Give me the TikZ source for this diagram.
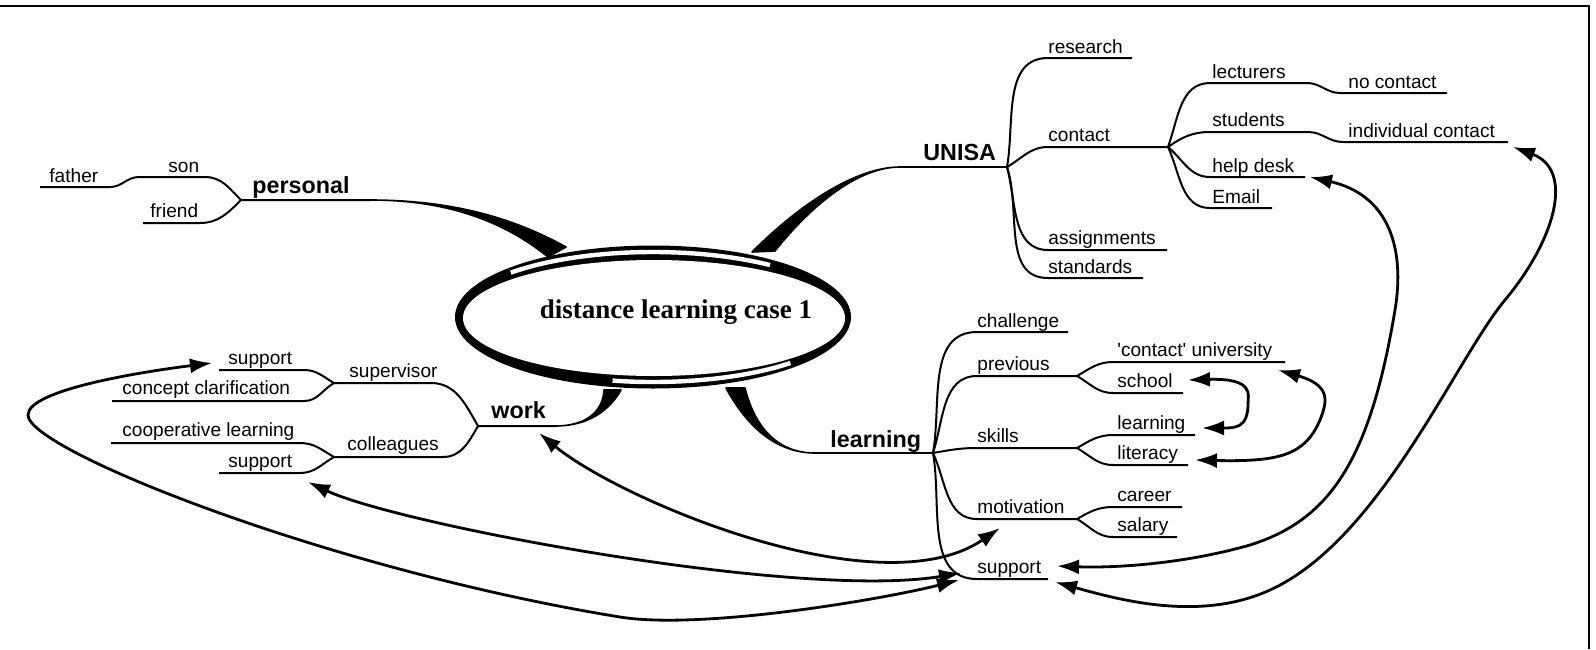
\documentclass[tikz,border=0pt]{standalone}
\usepackage{fontspec}
\setmainfont{Liberation Sans}
\newfontfamily\caseserif{Liberation Serif}
\usetikzlibrary{arrows.meta}

\begin{document}
\begin{tikzpicture}[x=0.5pt,y=-0.5pt,
    lbl/.style={anchor=base west,inner sep=0pt,font=\fontsize{9.55}{11}\selectfont},
    topic/.style={anchor=base west,inner sep=0pt,font=\fontsize{11.65}{14}\selectfont\bfseries},
    branch/.style={line width=1pt},
    taper/.style={fill=black,draw=black,line width=0.8pt,line join=round},
    link/.style={line width=1.4pt,{Latex[length=11pt,width=7.5pt]}-{Latex[length=11pt,width=7.5pt]}}]
    \useasboundingbox (0,0) rectangle (1596,649);

    % Ellipse radii
    \def\rx{99pt}
    \def\ry{35.75pt}

    % Frame
    \coordinate (frameL) at (0,6);
    \coordinate (frameC) at (1589,6);
    \coordinate (frameB) at (1589,649);
    \draw[line width=1pt] (frameL) -- (frameC) -- (frameB);

    % Forks and line ends
    \coordinate (ctr) at (653,317);
    \coordinate (pFork) at (241,200);  \coordinate (pEnd) at (370,200);
    \coordinate (uFork) at (1007,167); \coordinate (uEnd) at (900,167);
    \coordinate (wFork) at (478,426);  \coordinate (wEnd) at (555,426);
    \coordinate (lFork) at (933,453);  \coordinate (lEnd) at (815,453);

    % Thick branches into the ellipse
    \path[taper] (pEnd) .. controls (450,200) and (512,217) .. (566,247) -- (548,257) .. controls (506,223) and (450,200) .. (pEnd) -- cycle;
    \path[taper] (uEnd) .. controls (860,167) and (806,198) .. (752,252) -- (775,251) .. controls (814,202) and (860,167) .. (uEnd) -- cycle;
    \path[taper] (wEnd) .. controls (588,426) and (603,410) .. (604,390) -- (621,390) .. controls (609,411) and (588,426) .. (wEnd) -- cycle;
    \path[taper] (lEnd) .. controls (775,453) and (746,425) .. (726,388) -- (745,388) .. controls (754,424) and (775,453) .. (lEnd) -- cycle;

    % Centre ellipse
    \fill (ctr) ellipse [x radius=\rx, y radius=\ry];
    \fill[white] (654,318) ellipse [x radius=95.5pt, y radius=29pt];
    \draw[white,line width=2.2pt] ([shift={(53:97.2pt and 32.5pt)}]ctr) arc[start angle=53,end angle=137,x radius=97.2pt,y radius=32.5pt];
    \draw[white,line width=2.2pt] ([shift={(258:97.2pt and 32.5pt)}]ctr) arc[start angle=258,end angle=315,x radius=97.2pt,y radius=32.5pt];
    \node[anchor=base,inner sep=0pt,font=\caseserif\fontsize{13.5}{16}\selectfont\bfseries] (case) at (676,318) {distance learning case 1};

    % personal
    \coordinate (sonR) at (205,177);    \coordinate (sonL) at (139,177);
    \coordinate (fatherR) at (110,187); \coordinate (fatherL) at (40,187);
    \coordinate (friendR) at (200,223); \coordinate (friendL) at (143,223);
    \draw[branch] (pEnd) -- (pFork) to[out=135,in=0] (sonR) -- (sonL) to[out=180,in=0] (fatherR) -- (fatherL);
    \draw[branch] (pFork) to[out=225,in=0] (friendR) -- (friendL);
    \node[topic] (personal) at (252,193) {personal};
    \node[lbl] (son) at (168,172) {son};
    \node[lbl] (father) at (49,182) {father};
    \node[lbl] (friend) at (150,217) {friend};

    % UNISA
    \coordinate (resL) at (1048,58);  \coordinate (resR) at (1132,58);
    \coordinate (ctL) at (1048,147);  \coordinate (ctFork) at (1168,147);
    \coordinate (asL) at (1048,250);  \coordinate (asR) at (1167,250);
    \coordinate (stL) at (1048,278);  \coordinate (stR) at (1143,278);
    \draw[branch] (uEnd) -- (uFork);
    \draw[branch] (uFork) to[out=80,in=180] (resL) -- (resR);
    \draw[branch] (uFork) to[out=30,in=180] (ctL) -- (ctFork);
    \draw[branch] (uFork) to[out=-75,in=180] (asL) -- (asR);
    \draw[branch] (uFork) to[out=-72,in=180] (stL) -- (stR);
    \node[topic] (unisa) at (923,160) {UNISA};
    \node[lbl] (research) at (1048,53) {research};
    \node[lbl] (contact) at (1048,141) {contact};
    \node[lbl] (assign) at (1048,244) {assignments};
    \node[lbl] (standards) at (1048,273) {standards};

    % contact
    \coordinate (lecL) at (1210,83);  \coordinate (lecR) at (1307,83);
    \coordinate (ncL) at (1340,93);   \coordinate (ncR) at (1447,93);
    \coordinate (stuL) at (1210,132); \coordinate (stuR) at (1308,132);
    \coordinate (icL) at (1343,142);  \coordinate (icR) at (1508,142);
    \coordinate (hdL) at (1210,177);  \coordinate (hdR) at (1305,177);
    \coordinate (emL) at (1210,208);  \coordinate (emR) at (1272,208);
    \draw[branch] (ctFork) to[out=70,in=180] (lecL) -- (lecR) to[out=0,in=180] (ncL) -- (ncR);
    \draw[branch] (ctFork) to[out=35,in=180] (stuL) -- (stuR) to[out=0,in=180] (icL) -- (icR);
    \draw[branch] (ctFork) to[out=-40,in=180] (hdL) -- (hdR);
    \draw[branch] (ctFork) to[out=-65,in=180] (emL) -- (emR);
    \node[lbl] (lecturers) at (1212,78) {lecturers};
    \node[lbl] (nocontact) at (1348,88) {no contact};
    \node[lbl] (students) at (1212,126) {students};
    \node[lbl] (indiv) at (1348,137) {individual contact};
    \node[lbl] (helpdesk) at (1212,172) {help desk};
    \node[lbl] (email) at (1212,203) {Email};

    % work
    \coordinate (supFork) at (334,383); \coordinate (supR) at (431,383);
    \coordinate (colFork) at (334,457); \coordinate (colR) at (443,457);
    \coordinate (sup1R) at (304,370);   \coordinate (sup1L) at (219,370);
    \coordinate (conR) at (304,401);    \coordinate (conL) at (112,401);
    \coordinate (coopR) at (300,443);   \coordinate (coopL) at (111,443);
    \coordinate (sup2R) at (300,473);   \coordinate (sup2L) at (219,473);
    \draw[branch] (wEnd) -- (wFork) to[out=120,in=0] (supR) -- (supFork);
    \draw[branch] (wFork) to[out=240,in=0] (colR) -- (colFork);
    \draw[branch] (supFork) to[out=150,in=0] (sup1R) -- (sup1L);
    \draw[branch] (supFork) to[out=210,in=0] (conR) -- (conL);
    \draw[branch] (colFork) to[out=150,in=0] (coopR) -- (coopL);
    \draw[branch] (colFork) to[out=210,in=0] (sup2R) -- (sup2L);
    \node[topic] (work) at (491,418) {work};
    \node[lbl] (supervisor) at (349,377) {supervisor};
    \node[lbl] (colleagues) at (347,450) {colleagues};
    \node[lbl] (supA) at (228,364) {support};
    \node[lbl] (concept) at (122,394) {concept clarification};
    \node[lbl] (coop) at (122,436) {cooperative learning};
    \node[lbl] (supB) at (228,467) {support};

    % learning
    \coordinate (chL) at (977,332);  \coordinate (chR) at (1068,332);
    \coordinate (prL) at (977,376);  \coordinate (prFork) at (1077,376);
    \coordinate (skL) at (977,448);  \coordinate (skFork) at (1077,448);
    \coordinate (moL) at (977,519);  \coordinate (moFork) at (1077,519);
    \coordinate (suL) at (977,579);  \coordinate (suR) at (1048,579);
    \draw[branch] (lEnd) -- (lFork);
    \draw[branch] (lFork) to[out=80,in=180] (chL) -- (chR);
    \draw[branch] (lFork) to[out=72,in=180] (prL) -- (prFork);
    \draw[branch] (lFork) to[out=10,in=180] (skL) -- (skFork);
    \draw[branch] (lFork) to[out=-65,in=180] (moL) -- (moFork);
    \draw[branch] (lFork) to[out=-80,in=180] (suL) -- (suR);
    \node[topic] (learning) at (830,447) {learning};
    \node[lbl] (challenge) at (977,327) {challenge};
    \node[lbl] (previous) at (977,370) {previous};
    \node[lbl] (skills) at (977,442) {skills};
    \node[lbl] (motivation) at (977,513) {motivation};
    \node[lbl] (supC) at (977,573) {support};

    % previous, skills, motivation
    \coordinate (cuL) at (1113,362); \coordinate (cuR) at (1285,362);
    \coordinate (scL) at (1113,393); \coordinate (scR) at (1183,393);
    \coordinate (leL) at (1113,435); \coordinate (leR) at (1195,435);
    \coordinate (liL) at (1113,465); \coordinate (liR) at (1188,465);
    \coordinate (caL) at (1113,507); \coordinate (caR) at (1182,507);
    \coordinate (saL) at (1113,537); \coordinate (saR) at (1177,537);
    \draw[branch] (prFork) to[out=30,in=180] (cuL) -- (cuR);
    \draw[branch] (prFork) to[out=-30,in=180] (scL) -- (scR);
    \draw[branch] (skFork) to[out=30,in=180] (leL) -- (leR);
    \draw[branch] (skFork) to[out=-30,in=180] (liL) -- (liR);
    \draw[branch] (moFork) to[out=30,in=180] (caL) -- (caR);
    \draw[branch] (moFork) to[out=-30,in=180] (saL) -- (saR);
    \node[lbl] (university) at (1117,356) {\textquotesingle contact\textquotesingle{} university};
    \node[lbl] (school) at (1117,387) {school};
    \node[lbl] (learnskill) at (1117,429) {learning};
    \node[lbl] (literacy) at (1117,459) {literacy};
    \node[lbl] (career) at (1117,501) {career};
    \node[lbl] (salary) at (1117,531) {salary};

    % Arrow ends
    \coordinate (aWork) at (539,433);   \coordinate (aMot) at (1000,528);
    \coordinate (aSupA) at (212,363);   \coordinate (aSupB) at (308,482);
    \coordinate (aSupC1) at (961,573);  \coordinate (aSupC2) at (959,580);
    \coordinate (aHelp) at (1310,177);  \coordinate (aSupC3) at (1057,566);
    \coordinate (aIndiv) at (1513,147); \coordinate (aSupC4) at (1055,582);
    \coordinate (aSchool) at (1188,380); \coordinate (aLearn) at (1202,428);
    \coordinate (aUni) at (1278,370);   \coordinate (aLit) at (1195,460);

    % Arrows
    \draw[link] (aWork) .. controls (620,500) and (880,610) .. (aMot);
    \draw[link] (aSupB) .. controls (400,525) and (800,600) .. (aSupC1);
    \draw[link] (aSupA) .. controls (140,372) and (28,390) .. (28,415) .. controls (28,450) and (330,570) .. (620,617) .. controls (700,630) and (880,600) .. (aSupC2);
    \draw[link] (aHelp) .. controls (1390,195) and (1405,250) .. (1395,310) .. controls (1370,460) and (1330,520) .. (1250,545) .. controls (1180,565) and (1110,568) .. (aSupC3);
    \draw[link] (aIndiv) .. controls (1575,170) and (1555,240) .. (1505,300) .. controls (1455,360) and (1380,540) .. (1270,590) .. controls (1200,622) and (1120,600) .. (aSupC4);
    \draw[link] (aSchool) .. controls (1255,378) and (1248,395) .. (1248,404) .. controls (1248,428) and (1235,428) .. (aLearn);
    \draw[link] (aUni) .. controls (1330,385) and (1328,400) .. (1320,420) .. controls (1305,455) and (1280,462) .. (aLit);
\end{tikzpicture}
\end{document}
